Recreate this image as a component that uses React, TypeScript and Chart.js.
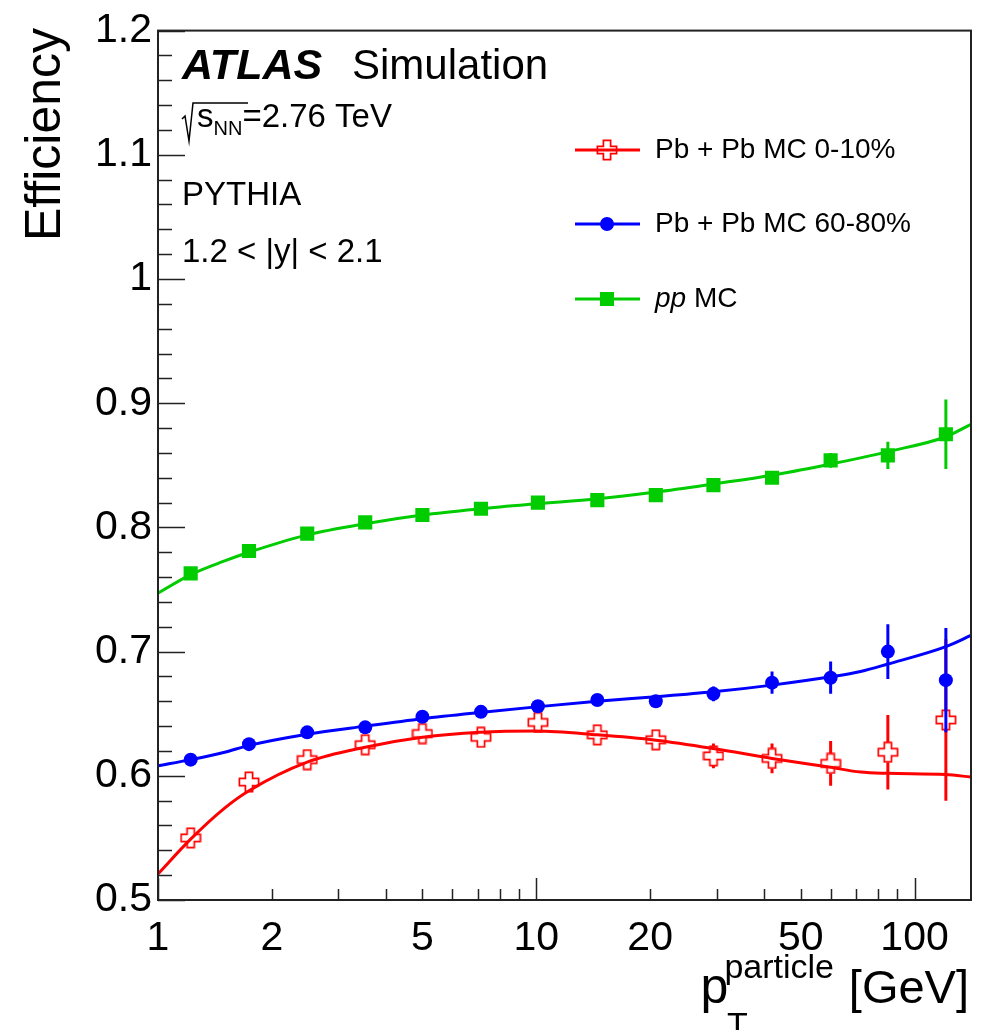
import React, { useEffect, useRef } from 'react';
import { Chart, registerables } from 'chart.js';

Chart.register(...registerables);

// ---- data ----
const ptCenters = [1.22, 1.74, 2.48, 3.53, 5.0, 7.14, 10.1, 14.5, 20.7, 29.4, 42, 60, 85, 121];

const effCentral = [0.550, 0.595, 0.613, 0.625, 0.634, 0.631, 0.643, 0.633, 0.629, 0.616, 0.614, 0.610, 0.619, 0.645];
const errCentral = [0.003, 0.003, 0.003, 0.003, 0.004, 0.004, 0.005, 0.005, 0.006, 0.010, 0.012, 0.018, 0.030, 0.065];

const effPeripheral = [0.613, 0.6255, 0.635, 0.639, 0.6475, 0.6515, 0.656, 0.661, 0.660, 0.666, 0.675, 0.679, 0.700, 0.677];
const errPeripheral = [0.002, 0.002, 0.002, 0.002, 0.002, 0.003, 0.003, 0.003, 0.005, 0.006, 0.009, 0.013, 0.022, 0.042];

const effPP = [0.763, 0.781, 0.795, 0.804, 0.810, 0.815, 0.820, 0.822, 0.826, 0.834, 0.840, 0.854, 0.858, 0.875];
const errPP = [0.001, 0.001, 0.001, 0.001, 0.001, 0.001, 0.002, 0.002, 0.002, 0.003, 0.004, 0.006, 0.011, 0.028];

// fit curves read along their drawn path
const fitX = [1, 1.22, 1.5, 1.74, 2.48, 3.53, 5, 7.1, 10, 14.5, 20.7, 29.4, 42, 60, 72, 85, 121, 141];
const fitCentral = [0.521, 0.549, 0.574, 0.588, 0.611, 0.623, 0.631, 0.635, 0.636, 0.633, 0.6287, 0.622, 0.614, 0.6068, 0.603, 0.602, 0.601, 0.599];
const fitPeripheral = [0.608, 0.613, 0.619, 0.6245, 0.6335, 0.640, 0.646, 0.651, 0.6555, 0.660, 0.6636, 0.6676, 0.673, 0.6797, 0.684, 0.690, 0.704, 0.713];
const fitPP = [0.747, 0.762, 0.773, 0.780, 0.794, 0.803, 0.810, 0.815, 0.819, 0.823, 0.8285, 0.835, 0.842, 0.851, 0.856, 0.861, 0.873, 0.883];

const xLabelTicks = [1, 2, 5, 10, 20, 50, 100];
const xAllTicks = [1, 2, 3, 4, 5, 6, 7, 8, 9, 10, 20, 30, 40, 50, 60, 70, 80, 90, 100];
const yMajorTicks = [0.5, 0.6, 0.7, 0.8, 0.9, 1.0, 1.1, 1.2];

const seriesNames = ['Pb + Pb MC 0-10%', 'Pb + Pb MC 60-80%', 'MC'];

const RED = '#ff0000';
const BLUE = '#0000ff';
const GREEN = '#00cc00';
const FONT = '"Liberation Sans", Arial, Helvetica, sans-serif';

function makeCross(): HTMLCanvasElement {
  const c = document.createElement('canvas');
  c.width = 22;
  c.height = 22;
  const g = c.getContext('2d')!;
  const cx = 11, cy = 11, a = 3.6, e = 9.6;
  g.translate(cx, cy);
  g.beginPath();
  g.moveTo(-a, -e); g.lineTo(a, -e); g.lineTo(a, -a); g.lineTo(e, -a); g.lineTo(e, a);
  g.lineTo(a, a); g.lineTo(a, e); g.lineTo(-a, e); g.lineTo(-a, a); g.lineTo(-e, a);
  g.lineTo(-e, -a); g.lineTo(-a, -a); g.closePath();
  g.strokeStyle = RED;
  g.lineWidth = 1.7;
  g.stroke();
  return c;
}

const errorBarPlugin = {
  id: 'errorBars',
  beforeDatasetDraw(chart: any, args: any) {
    const ds = chart.data.datasets[args.index];
    if (!ds.errors) return;
    const { ctx, chartArea } = chart;
    const xs = chart.scales.x, ys = chart.scales.y;
    ctx.save();
    ctx.beginPath();
    ctx.rect(chartArea.left, chartArea.top, chartArea.right - chartArea.left, chartArea.bottom - chartArea.top);
    ctx.clip();
    ctx.strokeStyle = ds.errColor;
    ctx.lineWidth = 3;
    ds.data.forEach((p: any, i: number) => {
      const px = xs.getPixelForValue(p.x);
      const py = ys.getPixelForValue(p.y);
      const top = ys.getPixelForValue(p.y + ds.errors[i]);
      const bot = ys.getPixelForValue(p.y - ds.errors[i]);
      const gap = ds.errGap;
      ctx.beginPath();
      if (top < py - gap) { ctx.moveTo(px, top); ctx.lineTo(px, py - gap); }
      if (bot > py + gap) { ctx.moveTo(px, py + gap); ctx.lineTo(px, bot); }
      ctx.stroke();
    });
    ctx.restore();
  },
};

function makeDecorPlugin(cross: HTMLCanvasElement) {
  return {
    id: 'decor',
    afterDraw(chart: any) {
      const { ctx, chartArea } = chart;
      const xs = chart.scales.x, ys = chart.scales.y;
      const L = chartArea.left, R = chartArea.right, T = chartArea.top, B = chartArea.bottom;
      ctx.save();
      // ticks
      ctx.strokeStyle = '#222';
      ctx.lineWidth = 1.5;
      ctx.beginPath();
      for (let v = 0.5; v <= 1.2001; v += 0.02) {
        const py = Math.round(ys.getPixelForValue(v)) + 0.5;
        const major = yMajorTicks.some((m) => Math.abs(m - v) < 1e-6);
        ctx.moveTo(L, py);
        ctx.lineTo(L + (major ? 27 : 14), py);
      }
      xAllTicks.forEach((v) => {
        const px = Math.round(xs.getPixelForValue(v)) + 0.5;
        const major = v === 1 || v === 10 || v === 100;
        ctx.moveTo(px, B);
        ctx.lineTo(px, B - (major ? 22 : 11));
      });
      ctx.stroke();
      // frame
      ctx.lineWidth = 2;
      ctx.strokeStyle = '#222';
      ctx.strokeRect(L, T, R - L, B - T);

      // texts
      ctx.fillStyle = '#000';
      ctx.textBaseline = 'alphabetic';
      ctx.textAlign = 'left';
      ctx.font = `italic bold 43px ${FONT}`;
      ctx.fillText('ATLAS', 182, 79);
      ctx.font = `42px ${FONT}`;
      ctx.fillText('Simulation', 352, 79);

      // sqrt(s_NN)
      ctx.lineWidth = 1.5;
      ctx.strokeStyle = '#000';
      ctx.beginPath();
      ctx.moveTo(182, 119);
      ctx.lineTo(185, 116);
      ctx.lineTo(189, 141);
      ctx.lineTo(193, 103);
      ctx.lineTo(248, 103);
      ctx.stroke();
      ctx.font = `33px ${FONT}`;
      ctx.fillText('s', 197, 127);
      const sW = ctx.measureText('s').width;
      ctx.font = `20px ${FONT}`;
      ctx.fillText('NN', 197 + sW, 135);
      const nnW = ctx.measureText('NN').width;
      ctx.font = `33px ${FONT}`;
      ctx.fillText('=2.76 TeV', 197 + sW + nnW, 127);
      ctx.fillText('PYTHIA', 182, 205);
      ctx.fillText('1.2 < |y| < 2.1', 182, 262);

      // legend
      const rows = [150, 224, 299];
      const colors = [RED, BLUE, GREEN];
      rows.forEach((ry, i) => {
        ctx.strokeStyle = colors[i];
        ctx.lineWidth = 3;
        ctx.beginPath();
        ctx.moveTo(575, ry);
        ctx.lineTo(640, ry);
        ctx.stroke();
        if (i === 0) {
          ctx.drawImage(cross, 607 - 11, ry - 11);
        } else if (i === 1) {
          ctx.fillStyle = BLUE;
          ctx.beginPath();
          ctx.arc(607, ry, 7, 0, Math.PI * 2);
          ctx.fill();
        } else {
          ctx.fillStyle = GREEN;
          ctx.fillRect(607 - 7, ry - 7, 14, 14);
        }
        ctx.fillStyle = '#000';
        ctx.textBaseline = 'middle';
        if (i < 2) {
          ctx.font = `28px ${FONT}`;
          ctx.fillText(seriesNames[i], 655, ry);
        } else {
          ctx.font = `italic 28px ${FONT}`;
          ctx.fillText('pp', 655, ry);
          const w = ctx.measureText('pp ').width;
          ctx.font = `28px ${FONT}`;
          ctx.fillText(seriesNames[2], 655 + w, ry);
        }
      });

      // y title
      ctx.save();
      ctx.translate(60, 28);
      ctx.rotate(-Math.PI / 2);
      ctx.textAlign = 'right';
      ctx.textBaseline = 'alphabetic';
      ctx.font = `50px ${FONT}`;
      ctx.fillStyle = '#000';
      ctx.fillText('Efficiency', 0, 0);
      ctx.restore();

      // x title
      ctx.textBaseline = 'alphabetic';
      ctx.fillStyle = '#000';
      ctx.textAlign = 'right';
      ctx.font = `47px ${FONT}`;
      ctx.fillText('[GeV]', 969, 1003);
      ctx.font = `34px ${FONT}`;
      ctx.fillText('particle', 834, 978);
      const partW = ctx.measureText('particle').width;
      ctx.textAlign = 'left';
      ctx.font = `34px ${FONT}`;
      ctx.fillText('T', 727, 1036);
      ctx.textAlign = 'right';
      ctx.font = `50px ${FONT}`;
      ctx.fillText('p', 834 - partW + 4, 1003);
      ctx.restore();
    },
  };
}

export default function App() {
  const ref = useRef<HTMLCanvasElement | null>(null);

  useEffect(() => {
    if (!ref.current) return;
    const cross = makeCross();
    const pts = (ys: number[]) => ptCenters.map((x, i) => ({ x, y: ys[i] }));
    const fit = (ys: number[]) => fitX.map((x, i) => ({ x, y: ys[i] }));

    const chart = new Chart(ref.current, {
      type: 'scatter',
      data: {
        datasets: [
          {
            label: 'fit central', data: fit(fitCentral), showLine: true, borderColor: RED, borderWidth: 3,
            pointRadius: 0, cubicInterpolationMode: 'monotone', fill: false, order: 6,
          } as any,
          {
            label: seriesNames[0], data: pts(effCentral), showLine: false, pointStyle: cross,
            errors: errCentral, errColor: RED, errGap: 10, order: 5,
          } as any,
          {
            label: 'fit peripheral', data: fit(fitPeripheral), showLine: true, borderColor: BLUE, borderWidth: 3,
            pointRadius: 0, cubicInterpolationMode: 'monotone', fill: false, order: 4,
          } as any,
          {
            label: seriesNames[1], data: pts(effPeripheral), showLine: false, pointStyle: 'circle',
            pointRadius: 7, pointBackgroundColor: BLUE, pointBorderWidth: 0, borderColor: BLUE,
            errors: errPeripheral, errColor: BLUE, errGap: 0, order: 3,
          } as any,
          {
            label: 'fit pp', data: fit(fitPP), showLine: true, borderColor: GREEN, borderWidth: 3,
            pointRadius: 0, cubicInterpolationMode: 'monotone', fill: false, order: 2,
          } as any,
          {
            label: 'pp MC', data: pts(effPP), showLine: false, pointStyle: 'rect',
            pointRadius: 10, pointBackgroundColor: GREEN, pointBorderWidth: 0, borderColor: GREEN,
            errors: errPP, errColor: GREEN, errGap: 0, order: 1,
          } as any,
        ],
      },
      options: {
        animation: false,
        responsive: false,
        devicePixelRatio: 1,
        layout: { padding: { top: 30, right: 17, left: 0, bottom: 0 } },
        plugins: { legend: { display: false }, tooltip: { enabled: false } },
        events: [],
        scales: {
          x: {
            type: 'logarithmic',
            min: 1,
            max: 141,
            grid: { display: false, drawTicks: false },
            border: { display: false },
            afterBuildTicks: (s: any) => { s.ticks = xAllTicks.map((v) => ({ value: v })); },
            afterFit: (s: any) => { s.height = 130; },
            ticks: {
              autoSkip: false,
              maxRotation: 0,
              padding: 14,
              color: '#000',
              font: { family: FONT, size: 41 },
              callback: (v: any) => (xLabelTicks.includes(Number(v)) ? String(v) : ''),
            },
          },
          y: {
            type: 'linear',
            min: 0.5,
            max: 1.2,
            grid: { display: false, drawTicks: false },
            border: { display: false },
            afterBuildTicks: (s: any) => { s.ticks = yMajorTicks.map((v) => ({ value: v })); },
            afterFit: (s: any) => { s.width = 158; },
            ticks: {
              padding: 6,
              color: '#000',
              font: { family: FONT, size: 41 },
              callback: (v: any) => String(Number(Number(v).toFixed(1))),
            },
          },
        },
      } as any,
      plugins: [errorBarPlugin, makeDecorPlugin(cross)],
    });
    return () => chart.destroy();
  }, []);

  return (
    <div style={{ position: 'absolute', left: 0, top: 0, width: 988, height: 1030, background: '#fff' }}>
      <canvas ref={ref} width={988} height={1030} style={{ width: 988, height: 1030, display: 'block' }} />
    </div>
  );
}
